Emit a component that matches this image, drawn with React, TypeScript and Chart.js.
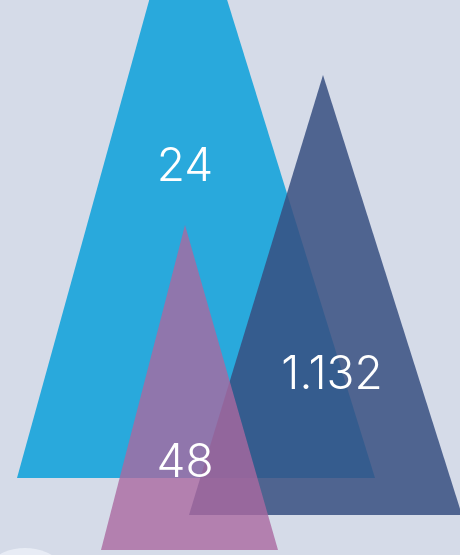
import React, { useEffect, useRef } from "react";
import { Chart, registerables } from "chart.js";

Chart.register(...registerables);

// Values shown in each triangle
const valueLabels = ["24", "1.132", "48"];
// Triangle geometry in chart units (x: 0..460, y: 0..555, y grows downward)
const baseLeftX = [17, 189, 101];
const baseRightX = [375, 462, 278];
const apexX = [186, 323, 185];
const apexY = [-133, 75, 225];
const baseY = [478, 515, 550];
// Label anchor (centre x, baseline y)
const labelX = [185, 332, 185];
const labelY = [181, 389, 477];
const colors = [
  "rgba(41,169,220,1)",
  "rgba(55,79,128,0.85)",
  "rgba(170,105,160,0.8)",
];

const BG = "#d5dbe8";

const labelPlugin = {
  id: "valueLabels",
  afterDatasetsDraw(chart: any) {
    const { ctx, scales } = chart;
    ctx.save();
    ctx.fillStyle = "#ffffff";
    ctx.font = '300 46px Inter';
    ctx.textAlign = "center";
    ctx.textBaseline = "alphabetic";
    valueLabels.forEach((t, i) => {
      ctx.fillText(t, scales.x.getPixelForValue(labelX[i]), scales.y.getPixelForValue(labelY[i]));
    });
    ctx.restore();
  },
};

const bgPlugin = {
  id: "bg",
  beforeDraw(chart: any) {
    const { ctx, width, height } = chart;
    ctx.save();
    ctx.fillStyle = BG;
    ctx.fillRect(0, 0, width, height);
    ctx.restore();
  },
};

export default function App() {
  const ref = useRef<HTMLCanvasElement>(null);
  useEffect(() => {
    document.body.style.margin = "0";
    const datasets: any[] = valueLabels.map((label, i) => ({
      type: "line",
      label,
      data: [
        { x: baseLeftX[i], y: baseY[i] },
        { x: apexX[i], y: apexY[i] },
        { x: baseRightX[i], y: baseY[i] },
      ],
      borderWidth: 0,
      borderColor: "rgba(0,0,0,0)",
      backgroundColor: colors[i],
      pointRadius: 0,
      tension: 0,
      fill: { value: baseY[i] },
      order: 10 - i,
    }));
    datasets.push({
      type: "bubble",
      label: "deco",
      data: [{ x: 25, y: 602, r: 54 }],
      backgroundColor: "rgba(236,240,248,0.8)",
      borderWidth: 0,
      order: 20,
    });
    const chart = new Chart(ref.current!, {
      type: "line",
      data: { datasets },
      options: {
        animation: false,
        responsive: false,
        maintainAspectRatio: false,
        layout: { padding: 0, autoPadding: false },
        plugins: { legend: { display: false }, tooltip: { enabled: false } },
        scales: {
          x: { type: "linear", min: 0, max: 460, display: false },
          y: { type: "linear", min: 0, max: 555, reverse: true, display: false },
        },
      },
      plugins: [bgPlugin, labelPlugin],
    });
    return () => chart.destroy();
  }, []);
  return (
    <div style={{ width: 460, height: 555 }}>
      <canvas ref={ref} width={460} height={555} style={{ display: "block" }} />
    </div>
  );
}
